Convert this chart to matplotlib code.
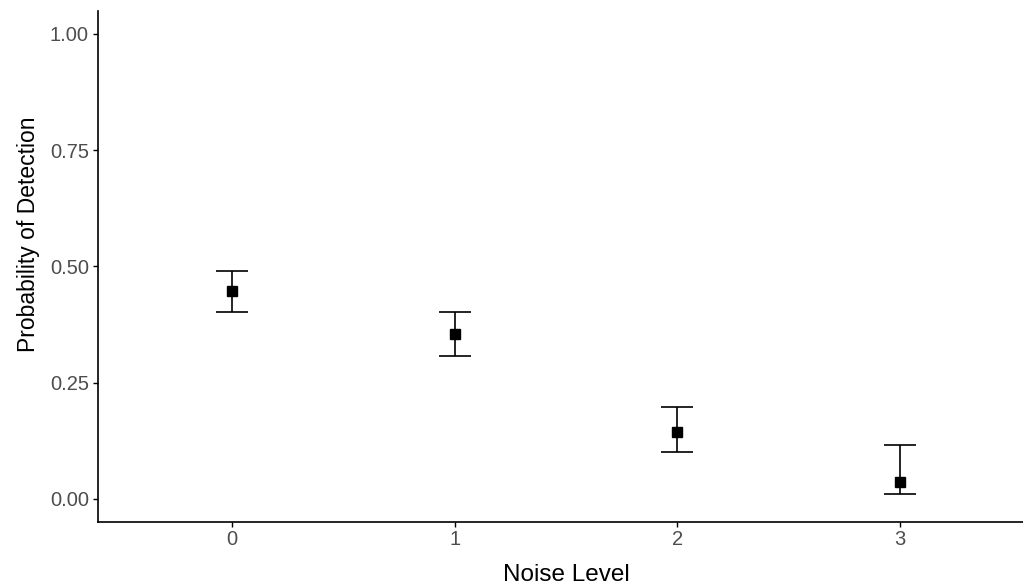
import matplotlib.pyplot as plt

plt.rcParams['font.family'] = ['Liberation Sans', 'DejaVu Sans']

# data
noise_level = [0, 1, 2, 3]
prob = [0.447, 0.354, 0.144, 0.037]
lower = [0.402, 0.307, 0.101, 0.011]
upper = [0.490, 0.402, 0.198, 0.116]
y_ticks = [0.00, 0.25, 0.50, 0.75, 1.00]
y_tick_labels = ['0.00', '0.25', '0.50', '0.75', '1.00']

fig = plt.figure(figsize=(10.23, 5.88), dpi=100)
# the original is cropped on the right and bottom, so the axes run past the edge
ax = fig.add_axes([98 / 1023, 1 - 522 / 588, 936 / 1023, (522 - 10.75) / 588])

yerr = [[p - lo for p, lo in zip(prob, lower)], [hi - p for p, hi in zip(prob, upper)]]
ax.errorbar(noise_level, prob, yerr=yerr, fmt='s', color='black', ecolor='black',
            markersize=7, elinewidth=1.2, capsize=11.5, capthick=1.2)

ax.set_xlim(-0.6, 3.6)
ax.set_ylim(-0.05, 1.05)
ax.set_xticks(noise_level)
ax.set_xticklabels([str(n) for n in noise_level])
ax.set_yticks(y_ticks)
ax.set_yticklabels(y_tick_labels)

for s in ['top', 'right']:
    ax.spines[s].set_visible(False)
for s in ['left', 'bottom']:
    ax.spines[s].set_linewidth(1.2)

ax.tick_params(axis='both', length=3.6, width=1.0, labelsize=14.5, labelcolor='#4d4d4d')
ax.tick_params(axis='x', pad=2)
ax.tick_params(axis='y', pad=3)
ax.set_xlabel('Noise Level', fontsize=17.5, labelpad=11)
ax.set_ylabel('Probability of Detection', fontsize=16.5, labelpad=7)
ax.yaxis.set_label_coords(-0.062, 0.563)

fig.savefig('out.png', dpi=100)
